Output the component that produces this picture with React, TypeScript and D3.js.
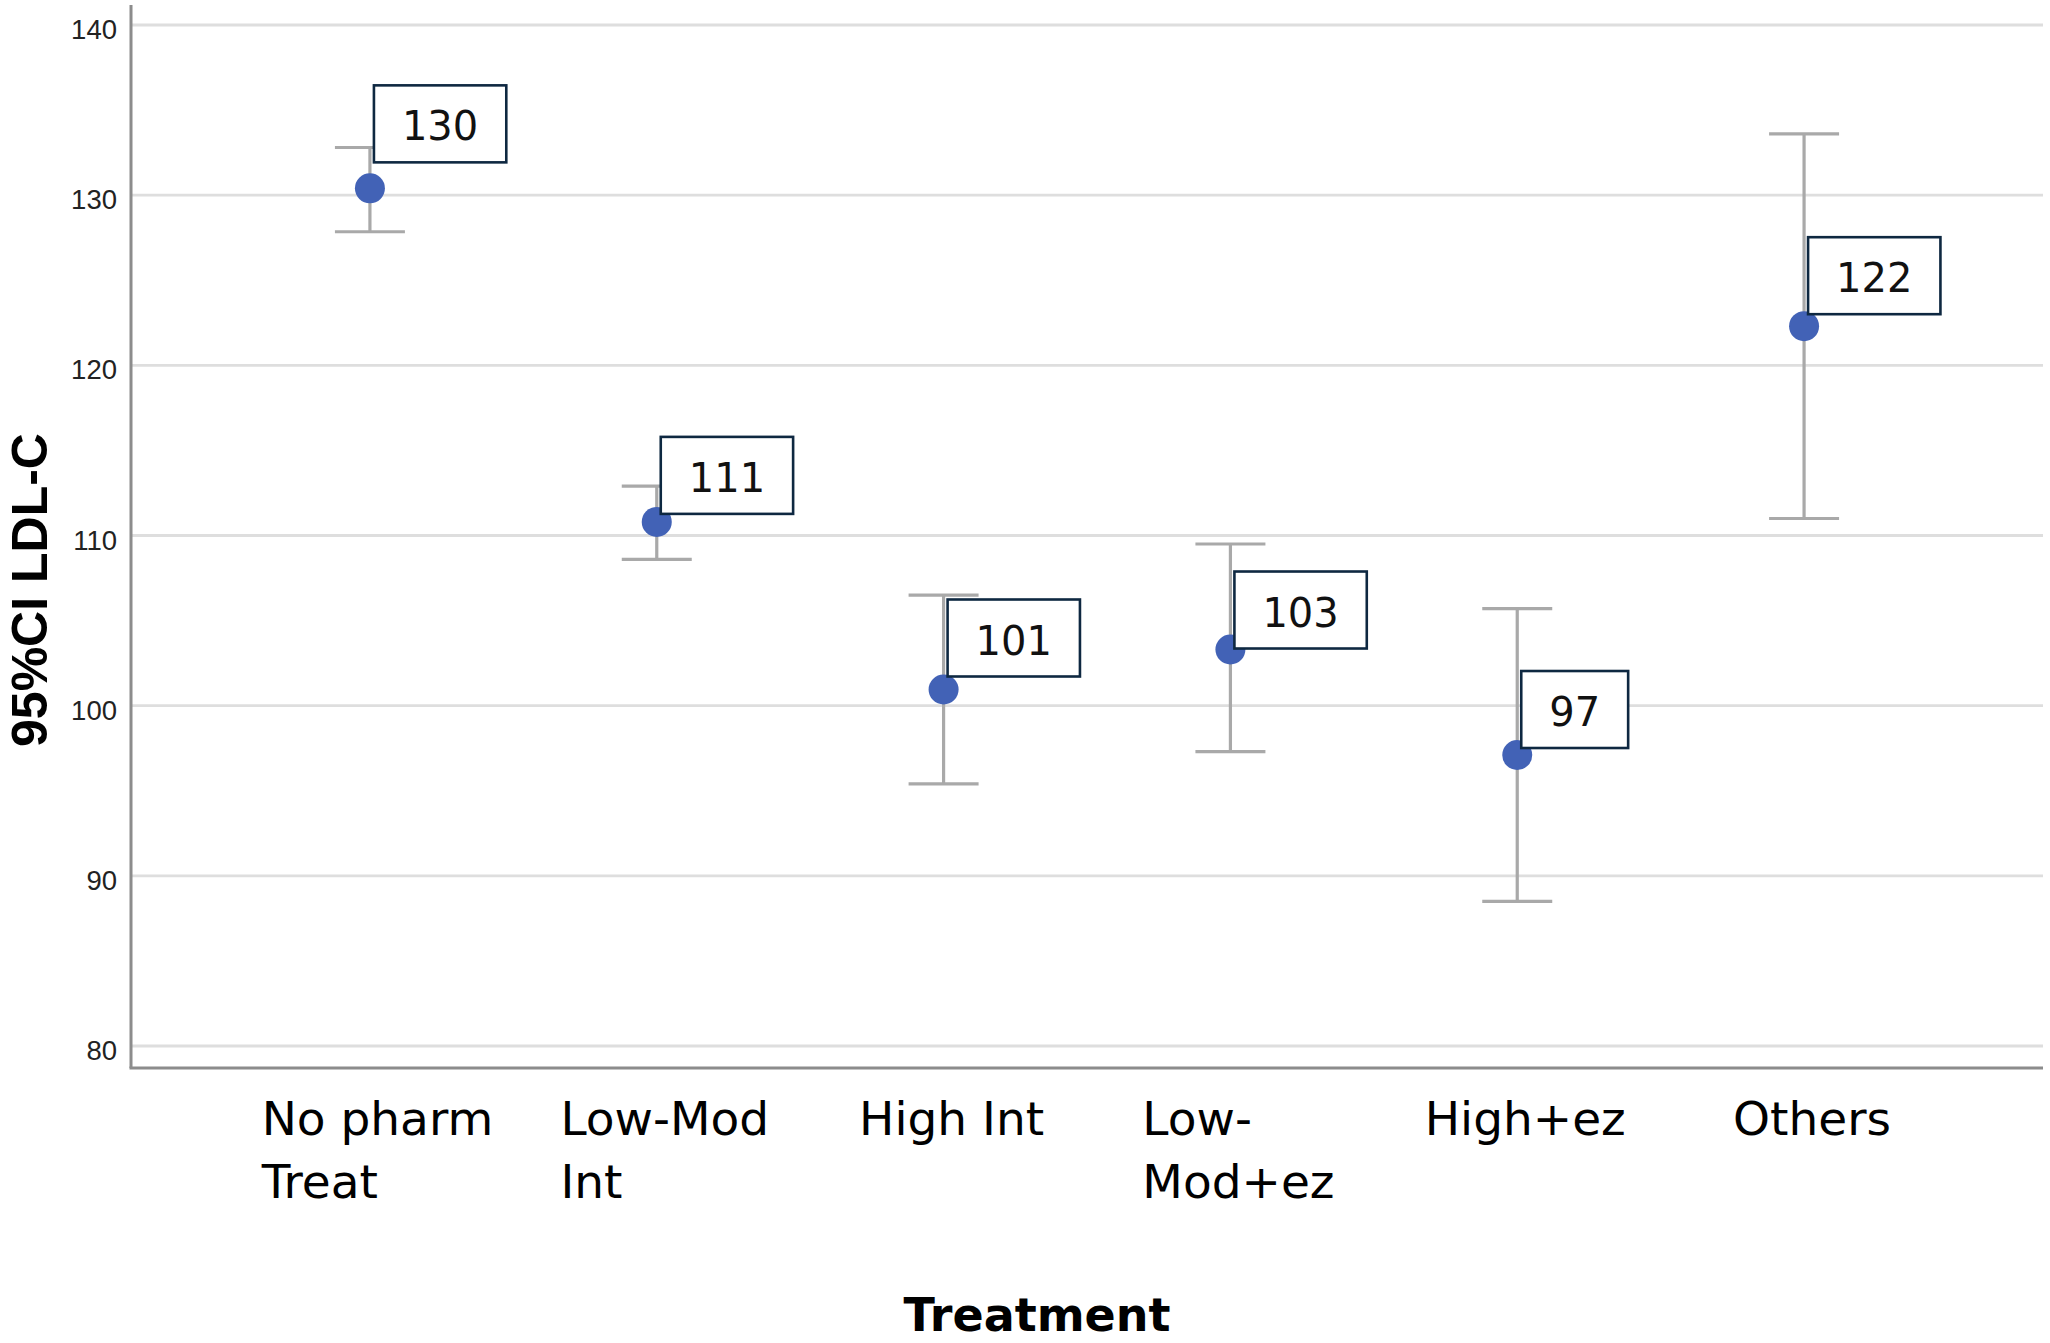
import React, { useEffect, useRef } from "react";
import * as d3 from "d3";

// ---- data ----
const categories: string[][] = [
  ["No pharm", "Treat"],
  ["Low-Mod", "Int"],
  ["High Int"],
  ["Low-", "Mod+ez"],
  ["High+ez"],
  ["Others"],
];
const means = [130.4, 110.8, 100.95, 103.3, 97.1, 122.3];
const ciLower = [127.85, 108.6, 95.4, 97.3, 88.5, 111.0];
const ciUpper = [132.8, 112.9, 106.5, 109.5, 105.7, 133.6];
const valueLabels = ["130", "111", "101", "103", "97", "122"];
const yTicks = [80, 90, 100, 110, 120, 130, 140];
// annotation box lift above each point (px), as placed in the reference
const labelLift = [26, 8, 13, 1, 7, 12];

const W = 2050;
const H = 1343;

export default function App() {
  const ref = useRef<SVGSVGElement | null>(null);

  useEffect(() => {
    document.body.style.margin = "0";
    const svg = d3.select(ref.current);
    svg.selectAll("*").remove();

    const left = 131;
    const right = 2043;
    const top = 25;
    const bottom = 1046;
    const axisY = bottom + 22;

    const keys = categories.map((c) => c.join(" "));
    const x = d3.scalePoint<string>().domain(keys).range([left, right]).padding(0.833);
    const y = d3.scaleLinear().domain([80, 140]).range([bottom, top]);

    // gridlines
    svg
      .append("g")
      .selectAll("line")
      .data(yTicks)
      .join("line")
      .attr("x1", left)
      .attr("x2", right)
      .attr("y1", (d) => y(d))
      .attr("y2", (d) => y(d))
      .attr("stroke", "#dedede")
      .attr("stroke-width", 2.8);

    // tick labels
    svg
      .append("g")
      .selectAll("text")
      .data(yTicks)
      .join("text")
      .attr("x", left - 14)
      .attr("y", (d) => y(d) + 14)
      .attr("text-anchor", "end")
      .attr("font-family", "'Liberation Sans', Arial, sans-serif")
      .attr("font-size", 27.5)
      .attr("fill", "#222")
      .text((d) => String(d));

    // axes lines
    svg
      .append("line")
      .attr("x1", left)
      .attr("x2", left)
      .attr("y1", 5)
      .attr("y2", axisY)
      .attr("stroke", "#8c8c8c")
      .attr("stroke-width", 3);
    svg
      .append("line")
      .attr("x1", left - 1.5)
      .attr("x2", right)
      .attr("y1", axisY)
      .attr("y2", axisY)
      .attr("stroke", "#8c8c8c")
      .attr("stroke-width", 3);

    const capHalf = 35;
    const gBars = svg.append("g");
    keys.forEach((k, i) => {
      const cx = x(k)!;
      gBars
        .append("line")
        .attr("x1", cx)
        .attr("x2", cx)
        .attr("y1", y(ciUpper[i]))
        .attr("y2", y(ciLower[i]))
        .attr("stroke", "#a9a9a9")
        .attr("stroke-width", 3.2);
      [ciUpper[i], ciLower[i]].forEach((v) => {
        gBars
          .append("line")
          .attr("x1", cx - capHalf)
          .attr("x2", cx + capHalf)
          .attr("y1", y(v))
          .attr("y2", y(v))
          .attr("stroke", "#a9a9a9")
          .attr("stroke-width", 3.2);
      });
    });

    // points
    svg
      .append("g")
      .selectAll("circle")
      .data(means)
      .join("circle")
      .attr("cx", (_, i) => x(keys[i])!)
      .attr("cy", (d) => y(d))
      .attr("r", 15)
      .attr("fill", "#4262b6");

    // value annotation boxes
    const gLab = svg.append("g");
    keys.forEach((k, i) => {
      const cx = x(k)!;
      const cy = y(means[i]);
      const g = gLab.append("g");
      const t = g
        .append("text")
        .attr("font-family", "'DejaVu Sans', sans-serif")
        .attr("font-size", 40)
        .attr("fill", "#111")
        .attr("text-anchor", "middle")
        .text(valueLabels[i]);
      const tw = (t.node() as SVGTextElement).getComputedTextLength();
      const bw = tw + 56;
      const bh = 77;
      const bx = cx + 4;
      const by = cy - labelLift[i] - bh;
      g.insert("rect", "text")
        .attr("x", bx)
        .attr("y", by)
        .attr("width", bw)
        .attr("height", bh)
        .attr("fill", "#fff")
        .attr("stroke", "#0e2841")
        .attr("stroke-width", 2.6);
      t.attr("x", bx + bw / 2).attr("y", by + 55);
    });

    // category labels (left-aligned blocks, roughly centred under each point)
    const gCat = svg.append("g");
    keys.forEach((k, i) => {
      const cx = x(k)!;
      const t = gCat
        .append("text")
        .attr("font-family", "'DejaVu Sans', sans-serif")
        .attr("font-size", 47)
        .attr("fill", "#000");
      categories[i].forEach((line, j) => {
        t.append("tspan")
          .attr("x", 0)
          .attr("y", 1135 + j * 63)
          .text(line);
      });
      const bb = (t.node() as SVGTextElement).getBBox();
      t.attr("transform", `translate(${cx - bb.width / 2 + 8},0)`);
    });

    // axis titles
    svg
      .append("text")
      .attr("x", 1037)
      .attr("y", 1331)
      .attr("text-anchor", "middle")
      .attr("font-family", "'DejaVu Sans', sans-serif")
      .attr("font-weight", "bold")
      .attr("font-size", 46)
      .attr("fill", "#000")
      .text("Treatment");

    svg
      .append("text")
      .attr("transform", "translate(47,590) rotate(-90)")
      .attr("text-anchor", "middle")
      .attr("font-family", "'Liberation Sans', Arial, sans-serif")
      .attr("font-weight", "bold")
      .attr("font-size", 50)
      .attr("fill", "#000")
      .text("95%CI LDL-C");
  }, []);

  return (
    <svg
      ref={ref}
      width={W}
      height={H}
      viewBox={`0 0 ${W} ${H}`}
      style={{ display: "block", background: "#fff" }}
    />
  );
}
